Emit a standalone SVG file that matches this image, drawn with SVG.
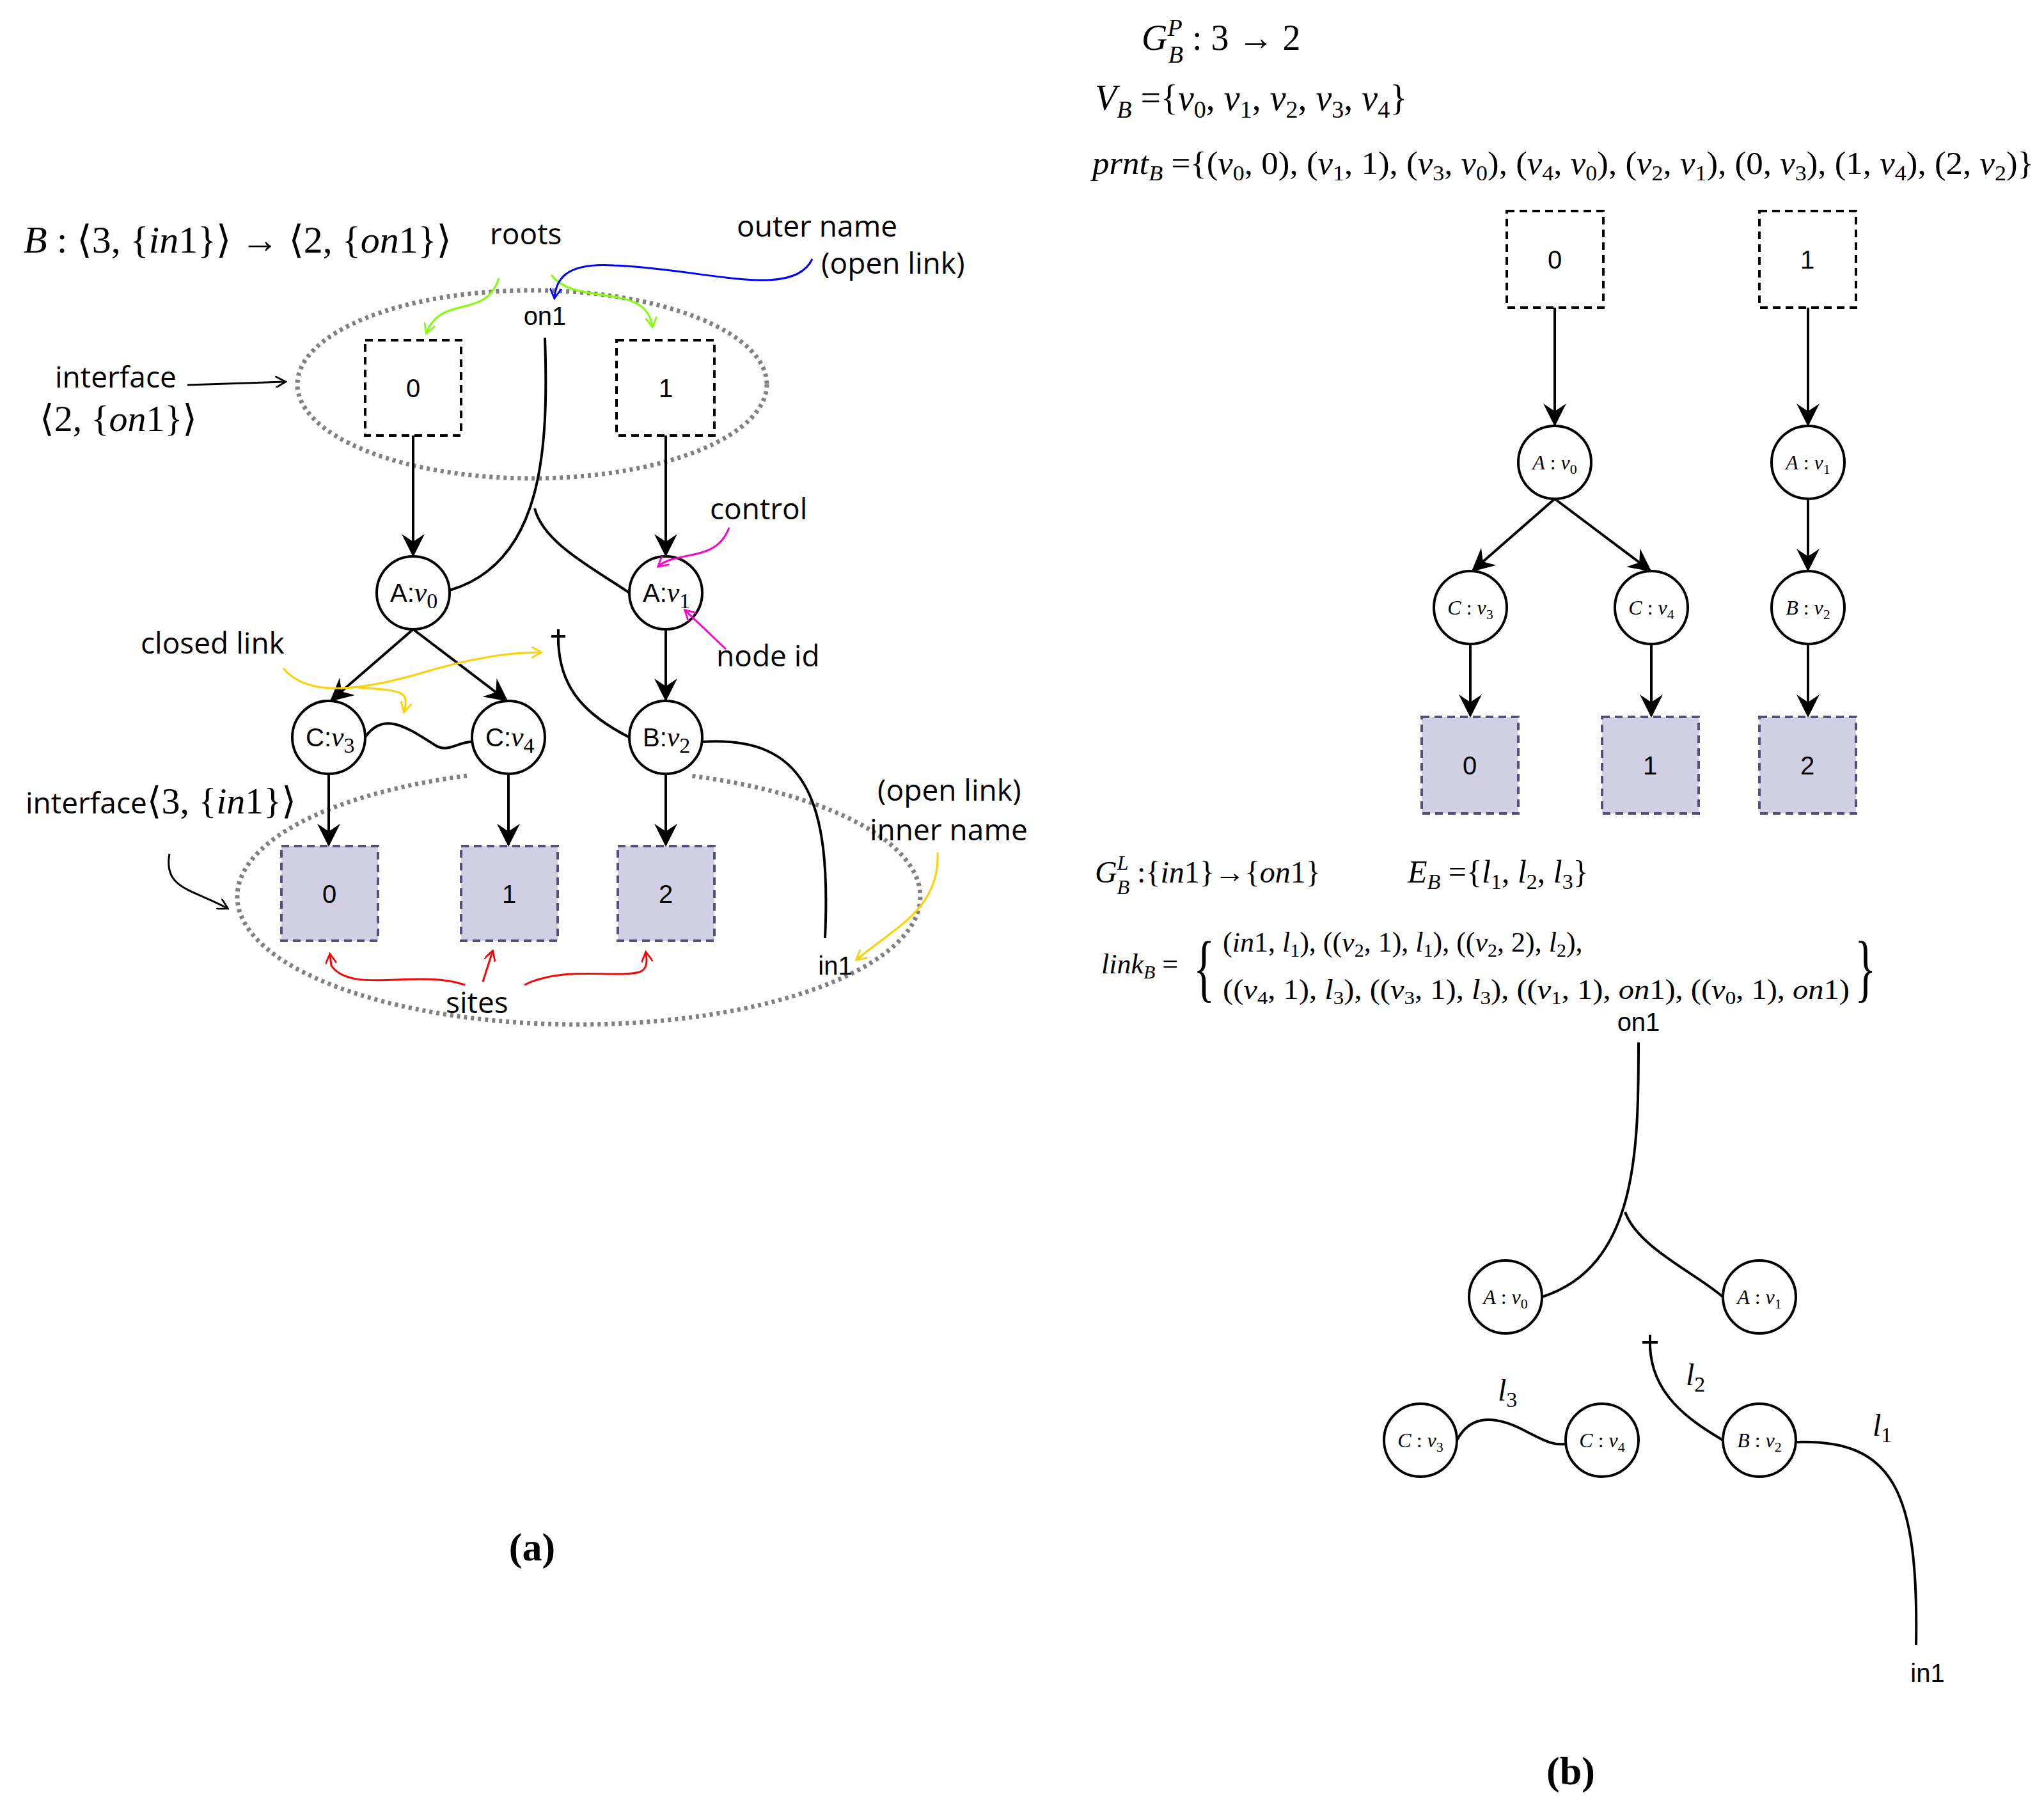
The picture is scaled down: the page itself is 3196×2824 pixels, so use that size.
<svg xmlns="http://www.w3.org/2000/svg" width="3196" height="2824" viewBox="0 0 3196 2824">
<defs>
<marker id="a" viewBox="0 0 12 12" refX="11" refY="6" markerWidth="36" markerHeight="36" orient="auto" markerUnits="userSpaceOnUse"><path d="M0,0 L12,6 L0,12 L4,6 Z" fill="#000"/></marker>
<marker id="sg" viewBox="0 0 10 10" refX="8" refY="5" markerWidth="18" markerHeight="18" orient="auto" markerUnits="userSpaceOnUse"><path d="M0,0 L9,5 L0,10" fill="none" stroke="#7fff00" stroke-width="1.5"/></marker>
<marker id="sb" viewBox="0 0 10 10" refX="8" refY="5" markerWidth="18" markerHeight="18" orient="auto" markerUnits="userSpaceOnUse"><path d="M0,0 L9,5 L0,10" fill="none" stroke="#0000ff" stroke-width="1.5"/></marker>
<marker id="sm" viewBox="0 0 10 10" refX="8" refY="5" markerWidth="18" markerHeight="18" orient="auto" markerUnits="userSpaceOnUse"><path d="M0,0 L9,5 L0,10" fill="none" stroke="#ff00cc" stroke-width="1.5"/></marker>
<marker id="sy" viewBox="0 0 10 10" refX="8" refY="5" markerWidth="18" markerHeight="18" orient="auto" markerUnits="userSpaceOnUse"><path d="M0,0 L9,5 L0,10" fill="none" stroke="#ffd000" stroke-width="1.5"/></marker>
<marker id="sr" viewBox="0 0 10 10" refX="8" refY="5" markerWidth="18" markerHeight="18" orient="auto" markerUnits="userSpaceOnUse"><path d="M0,0 L9,5 L0,10" fill="none" stroke="#ff0000" stroke-width="1.5"/></marker>
<marker id="sk" viewBox="0 0 10 10" refX="8" refY="5" markerWidth="18" markerHeight="18" orient="auto" markerUnits="userSpaceOnUse"><path d="M0,0 L9,5 L0,10" fill="none" stroke="#000" stroke-width="1.5"/></marker>
</defs>
<style>
.root{fill:#fff;stroke:#000;stroke-width:4;stroke-dasharray:12 8}
.site{fill:#d0cfe4;stroke:#55507a;stroke-width:4;stroke-dasharray:12 8}
.nd{fill:#fff;stroke:#000;stroke-width:4}
.e{stroke:#000;stroke-width:4;fill:none}
.l{stroke:#000;stroke-width:4;fill:none}
.iface{fill:none;stroke:#808080;stroke-width:7;stroke-dasharray:5 6}
.s{font-family:"Open Sans","Liberation Sans",sans-serif;font-size:46px;fill:#000}
.a{font-family:"Liberation Sans",Arial,sans-serif;font-size:40px;fill:#000}
.m{font-family:"Liberation Serif","DejaVu Serif",serif;fill:#000}
.mi{font-family:"Liberation Serif","DejaVu Serif",serif;font-style:italic;fill:#000}
.c{text-anchor:middle}
</style>
<rect width="3196" height="2824" fill="#fff"/>

<!-- LEFT PANEL -->
<g id="left-title"><text class="mi" x="37" y="395" font-size="60">B<tspan font-style="normal"> : ⟨3, {</tspan>in<tspan font-style="normal">1}⟩ → ⟨2, {</tspan>on<tspan font-style="normal">1}⟩</tspan></text></g>
<g id="iface-top"><ellipse class="iface" cx="832" cy="601" rx="367" ry="147"/></g>
<g id="iface-bottom"><path class="iface" d="M730,1213 A534,200 0 1 0 1080,1213"/></g>
<g id="root0"><rect class="root" x="571" y="532" width="150" height="149"/><text class="a c" x="646" y="621">0</text></g>
<g id="root1"><rect class="root" x="964" y="532" width="153" height="149"/><text class="a c" x="1041" y="621">1</text></g>
<g id="Av0"><circle class="nd" cx="646" cy="927" r="57"/><text class="a" x="610" y="941">A:<tspan class="mi" font-size="44">v</tspan><tspan class="m" font-size="34" dy="10">0</tspan></text></g>
<g id="Av1"><circle class="nd" cx="1041" cy="927" r="57"/><text class="a" x="1005" y="941">A:<tspan class="mi" font-size="44">v</tspan><tspan class="m" font-size="34" dy="10">1</tspan></text></g>
<g id="Cv3"><circle class="nd" cx="514" cy="1153" r="57"/><text class="a" x="478" y="1167">C:<tspan class="mi" font-size="44">v</tspan><tspan class="m" font-size="34" dy="10">3</tspan></text></g>
<g id="Cv4"><circle class="nd" cx="795" cy="1153" r="57"/><text class="a" x="759" y="1167">C:<tspan class="mi" font-size="44">v</tspan><tspan class="m" font-size="34" dy="10">4</tspan></text></g>
<g id="Bv2"><circle class="nd" cx="1041" cy="1153" r="57"/><text class="a" x="1005" y="1167">B:<tspan class="mi" font-size="44">v</tspan><tspan class="m" font-size="34" dy="10">2</tspan></text></g>
<g id="site0"><rect class="site" x="440" y="1323" width="151" height="148"/><text class="a c" x="515" y="1412">0</text></g>
<g id="site1"><rect class="site" x="721" y="1323" width="151" height="148"/><text class="a c" x="796" y="1412">1</text></g>
<g id="site2"><rect class="site" x="966" y="1323" width="151" height="148"/><text class="a c" x="1041" y="1412">2</text></g>
<g id="left-names">
<text class="a c" x="852" y="508">on1</text>
<text class="a c" x="1306" y="1524">in1</text>
</g>
<g id="left-connectors">
<line class="e" x1="646" y1="681" x2="646" y2="868" marker-end="url(#a)"/>
<line class="e" x1="1041" y1="681" x2="1041" y2="868" marker-end="url(#a)"/>
<line class="e" x1="646" y1="984" x2="518" y2="1095" marker-end="url(#a)"/>
<line class="e" x1="646" y1="984" x2="792" y2="1095" marker-end="url(#a)"/>
<line class="e" x1="1041" y1="984" x2="1041" y2="1094" marker-end="url(#a)"/>
<line class="e" x1="514" y1="1210" x2="514" y2="1321" marker-end="url(#a)"/>
<line class="e" x1="795" y1="1210" x2="795" y2="1321" marker-end="url(#a)"/>
<line class="e" x1="1041" y1="1210" x2="1041" y2="1321" marker-end="url(#a)"/>
<path class="l" d="M852,528 C858,700 850,880 703,923"/>
<path class="l" d="M836,795 C850,850 930,890 984,927"/>
<path class="l" d="M862,995 L884,995 M873,984 L873,1008 M873,1000 C874,1080 920,1120 984,1153"/>
<path class="l" d="M571,1153 C600,1110 640,1140 680,1165 C700,1178 715,1160 738,1160"/>
<path class="l" d="M1098,1160 C1260,1150 1300,1250 1290,1467"/>
</g>
<g id="left-annotations">
<text class="s" x="766" y="382">roots</text>
<text class="s" x="1152" y="370">outer name</text>
<text class="s" x="1284" y="428">(open link)</text>
<text class="s" x="86" y="606">interface</text>
<text class="m" x="62" y="674" font-size="58">⟨2, {<tspan font-style="italic">on</tspan>1}⟩</text>
<text class="s" x="1110" y="812">control</text>
<text class="s" x="1120" y="1042">node id</text>
<text class="s" x="220" y="1022">closed link</text>
<text class="s" x="40" y="1272">interface<tspan class="m" font-size="58">⟨3, {<tspan font-style="italic">in</tspan>1}⟩</tspan></text>
<text class="s" x="1372" y="1252">(open link)</text>
<text class="s" x="1360" y="1314">inner name</text>
<text class="s" x="697" y="1584">sites</text>
<path d="M293,602 L445,597" stroke="#000" stroke-width="3" fill="none" marker-end="url(#sk)"/>
<path d="M265,1335 C255,1390 300,1390 355,1420" stroke="#000" stroke-width="3" fill="none" marker-end="url(#sk)"/>
<path d="M780,435 C760,500 690,460 667,520" stroke="#7fff00" stroke-width="3" fill="none" marker-end="url(#sg)"/>
<path d="M862,430 C900,480 1010,440 1020,510" stroke="#7fff00" stroke-width="3" fill="none" marker-end="url(#sg)"/>
<path d="M1270,405 C1240,470 1100,420 960,415 C880,410 870,440 867,465" stroke="#0000ff" stroke-width="3" fill="none" marker-end="url(#sb)"/>
<path d="M1140,825 C1120,880 1060,860 1030,885" stroke="#ff00cc" stroke-width="3" fill="none" marker-end="url(#sm)"/>
<path d="M1135,1015 L1072,955" stroke="#ff00cc" stroke-width="3" fill="none" marker-end="url(#sm)"/>
<path d="M443,1045 C480,1090 560,1080 650,1055 C730,1030 790,1020 845,1020" stroke="#ffd000" stroke-width="3" fill="none" marker-end="url(#sy)"/>
<path d="M560,1075 C630,1080 640,1080 632,1112" stroke="#ffd000" stroke-width="3" fill="none" marker-end="url(#sy)"/>
<path d="M1466,1333 C1470,1420 1400,1450 1340,1500" stroke="#ffd000" stroke-width="3" fill="none" marker-end="url(#sy)"/>
<path d="M727,1540 C650,1515 550,1555 518,1510 L516,1493" stroke="#ff0000" stroke-width="3" fill="none" marker-end="url(#sr)"/>
<path d="M755,1535 L770,1488" stroke="#ff0000" stroke-width="3" fill="none" marker-end="url(#sr)"/>
<path d="M820,1540 C880,1510 960,1530 1000,1520 C1012,1515 1012,1505 1010,1490" stroke="#ff0000" stroke-width="3" fill="none" marker-end="url(#sr)"/>
</g>
<text class="m c" x="832" y="2440" font-size="62" font-weight="bold">(a)</text>

<!-- RIGHT PANEL -->
<g id="right-eqs">
<text class="mi" x="1785" y="78" font-size="56">G<tspan font-size="38" dy="-22">P</tspan><tspan font-size="38" dx="-22" dy="42">B</tspan><tspan font-style="normal" dy="-20"> : 3 → 2</tspan></text>
<text class="mi" x="1712" y="172" font-size="56">V<tspan font-size="38" dy="12">B</tspan><tspan font-style="normal" dy="-12"> ={</tspan>v<tspan font-size="38" font-style="normal" dy="12">0</tspan><tspan font-style="normal" dy="-12">, </tspan>v<tspan font-size="38" font-style="normal" dy="12">1</tspan><tspan font-style="normal" dy="-12">, </tspan>v<tspan font-size="38" font-style="normal" dy="12">2</tspan><tspan font-style="normal" dy="-12">, </tspan>v<tspan font-size="38" font-style="normal" dy="12">3</tspan><tspan font-style="normal" dy="-12">, </tspan>v<tspan font-size="38" font-style="normal" dy="12">4</tspan><tspan font-style="normal" dy="-12">}</tspan></text>
<text class="m" x="1708" y="272" font-size="50" textLength="1472" lengthAdjust="spacingAndGlyphs"><tspan font-style="italic">prnt</tspan><tspan font-size="34" font-style="italic" dy="10">B</tspan><tspan dy="-10"> ={(</tspan><tspan font-style="italic">v</tspan><tspan font-size="34" dy="10">0</tspan><tspan dy="-10">, 0), (</tspan><tspan font-style="italic">v</tspan><tspan font-size="34" dy="10">1</tspan><tspan dy="-10">, 1), (</tspan><tspan font-style="italic">v</tspan><tspan font-size="34" dy="10">3</tspan><tspan dy="-10">, </tspan><tspan font-style="italic">v</tspan><tspan font-size="34" dy="10">0</tspan><tspan dy="-10">), (</tspan><tspan font-style="italic">v</tspan><tspan font-size="34" dy="10">4</tspan><tspan dy="-10">, </tspan><tspan font-style="italic">v</tspan><tspan font-size="34" dy="10">0</tspan><tspan dy="-10">), (</tspan><tspan font-style="italic">v</tspan><tspan font-size="34" dy="10">2</tspan><tspan dy="-10">, </tspan><tspan font-style="italic">v</tspan><tspan font-size="34" dy="10">1</tspan><tspan dy="-10">), (0, </tspan><tspan font-style="italic">v</tspan><tspan font-size="34" dy="10">3</tspan><tspan dy="-10">), (1, </tspan><tspan font-style="italic">v</tspan><tspan font-size="34" dy="10">4</tspan><tspan dy="-10">), (2, </tspan><tspan font-style="italic">v</tspan><tspan font-size="34" dy="10">2</tspan><tspan dy="-10">)}</tspan></text>
</g>
<g id="p-root0"><rect class="root" x="2356" y="330" width="151" height="151"/><text class="a c" x="2431" y="420">0</text></g>
<g id="p-root1"><rect class="root" x="2751" y="330" width="151" height="151"/><text class="a c" x="2826" y="420">1</text></g>
<g id="p-Av0"><circle class="nd" cx="2431" cy="723" r="57"/><text class="mi c" x="2431" y="734" font-size="32">A<tspan font-style="normal"> : </tspan>v<tspan font-size="22" font-style="normal" dy="7">0</tspan></text></g>
<g id="p-Av1"><circle class="nd" cx="2827" cy="723" r="57"/><text class="mi c" x="2827" y="734" font-size="32">A<tspan font-style="normal"> : </tspan>v<tspan font-size="22" font-style="normal" dy="7">1</tspan></text></g>
<g id="p-Cv3"><circle class="nd" cx="2299" cy="950" r="57"/><text class="mi c" x="2299" y="961" font-size="32">C<tspan font-style="normal"> : </tspan>v<tspan font-size="22" font-style="normal" dy="7">3</tspan></text></g>
<g id="p-Cv4"><circle class="nd" cx="2582" cy="950" r="57"/><text class="mi c" x="2582" y="961" font-size="32">C<tspan font-style="normal"> : </tspan>v<tspan font-size="22" font-style="normal" dy="7">4</tspan></text></g>
<g id="p-Bv2"><circle class="nd" cx="2827" cy="950" r="57"/><text class="mi c" x="2827" y="961" font-size="32">B<tspan font-style="normal"> : </tspan>v<tspan font-size="22" font-style="normal" dy="7">2</tspan></text></g>
<g id="p-site0"><rect class="site" x="2223" y="1121" width="151" height="151"/><text class="a c" x="2298" y="1211">0</text></g>
<g id="p-site1"><rect class="site" x="2505" y="1121" width="151" height="151"/><text class="a c" x="2580" y="1211">1</text></g>
<g id="p-site2"><rect class="site" x="2751" y="1121" width="151" height="151"/><text class="a c" x="2826" y="1211">2</text></g>
<g id="place-connectors">
<line class="e" x1="2431" y1="481" x2="2431" y2="664" marker-end="url(#a)"/>
<line class="e" x1="2827" y1="481" x2="2827" y2="664" marker-end="url(#a)"/>
<line class="e" x1="2431" y1="780" x2="2303" y2="892" marker-end="url(#a)"/>
<line class="e" x1="2431" y1="780" x2="2580" y2="892" marker-end="url(#a)"/>
<line class="e" x1="2827" y1="780" x2="2827" y2="891" marker-end="url(#a)"/>
<line class="e" x1="2299" y1="1007" x2="2299" y2="1119" marker-end="url(#a)"/>
<line class="e" x1="2582" y1="1007" x2="2582" y2="1119" marker-end="url(#a)"/>
<line class="e" x1="2827" y1="1007" x2="2827" y2="1119" marker-end="url(#a)"/>
</g>
<g id="link-eqs">
<text class="mi" x="1712" y="1380" font-size="48">G<tspan font-size="32" dy="-20">L</tspan><tspan font-size="32" dx="-18" dy="38">B</tspan><tspan font-style="normal" dy="-18"> :{</tspan>in<tspan font-style="normal">1}→{</tspan>on<tspan font-style="normal">1}</tspan></text>
<text class="mi" x="2201" y="1380" font-size="50">E<tspan font-size="34" dy="10">B</tspan><tspan font-style="normal" dy="-10"> ={</tspan>l<tspan font-size="34" font-style="normal" dy="10">1</tspan><tspan font-style="normal" dy="-10">, </tspan>l<tspan font-size="34" font-style="normal" dy="10">2</tspan><tspan font-style="normal" dy="-10">, </tspan>l<tspan font-size="34" font-style="normal" dy="10">3</tspan><tspan font-style="normal" dy="-10">}</tspan></text>
<text class="mi" x="1722" y="1522" font-size="44">link<tspan font-size="30" dy="8">B</tspan><tspan font-style="normal" dy="-8"> =</tspan></text>
<text class="m" x="1866" y="1552" font-size="116" transform="translate(1866,1552) scale(0.6,1) translate(-1866,-1552)">{</text>
<text class="m" x="2900" y="1552" font-size="116" transform="translate(2900,1552) scale(0.6,1) translate(-2900,-1552)">}</text>
<text class="m" x="1912" y="1488" font-size="44">(<tspan font-style="italic">in</tspan>1, <tspan font-style="italic">l</tspan><tspan font-size="30" dy="8">1</tspan><tspan dy="-8">), ((</tspan><tspan font-style="italic">v</tspan><tspan font-size="30" dy="8">2</tspan><tspan dy="-8">, 1), </tspan><tspan font-style="italic">l</tspan><tspan font-size="30" dy="8">1</tspan><tspan dy="-8">), ((</tspan><tspan font-style="italic">v</tspan><tspan font-size="30" dy="8">2</tspan><tspan dy="-8">, 2), </tspan><tspan font-style="italic">l</tspan><tspan font-size="30" dy="8">2</tspan><tspan dy="-8">),</tspan></text>
<text class="m" x="1912" y="1562" font-size="44" textLength="980" lengthAdjust="spacingAndGlyphs">((<tspan font-style="italic">v</tspan><tspan font-size="30" dy="8">4</tspan><tspan dy="-8">, 1), </tspan><tspan font-style="italic">l</tspan><tspan font-size="30" dy="8">3</tspan><tspan dy="-8">), ((</tspan><tspan font-style="italic">v</tspan><tspan font-size="30" dy="8">3</tspan><tspan dy="-8">, 1), </tspan><tspan font-style="italic">l</tspan><tspan font-size="30" dy="8">3</tspan><tspan dy="-8">), ((</tspan><tspan font-style="italic">v</tspan><tspan font-size="30" dy="8">1</tspan><tspan dy="-8">, 1), </tspan><tspan font-style="italic">on</tspan><tspan>1), ((</tspan><tspan font-style="italic">v</tspan><tspan font-size="30" dy="8">0</tspan><tspan dy="-8">, 1), </tspan><tspan font-style="italic">on</tspan><tspan>1)</tspan></text>
</g>
<g id="l-Av0"><circle class="nd" cx="2354" cy="2028" r="57"/><text class="mi c" x="2354" y="2039" font-size="32">A<tspan font-style="normal"> : </tspan>v<tspan font-size="22" font-style="normal" dy="7">0</tspan></text></g>
<g id="l-Av1"><circle class="nd" cx="2751" cy="2028" r="57"/><text class="mi c" x="2751" y="2039" font-size="32">A<tspan font-style="normal"> : </tspan>v<tspan font-size="22" font-style="normal" dy="7">1</tspan></text></g>
<g id="l-Cv3"><circle class="nd" cx="2221" cy="2252" r="57"/><text class="mi c" x="2221" y="2263" font-size="32">C<tspan font-style="normal"> : </tspan>v<tspan font-size="22" font-style="normal" dy="7">3</tspan></text></g>
<g id="l-Cv4"><circle class="nd" cx="2505" cy="2252" r="57"/><text class="mi c" x="2505" y="2263" font-size="32">C<tspan font-style="normal"> : </tspan>v<tspan font-size="22" font-style="normal" dy="7">4</tspan></text></g>
<g id="l-Bv2"><circle class="nd" cx="2751" cy="2252" r="57"/><text class="mi c" x="2751" y="2263" font-size="32">B<tspan font-style="normal"> : </tspan>v<tspan font-size="22" font-style="normal" dy="7">2</tspan></text></g>
<g id="link-connectors">
<path class="l" d="M2562,1630 C2562,1800 2560,1980 2411,2028"/>
<path class="l" d="M2541,1895 C2560,1950 2650,1990 2694,2028"/>
<path class="l" d="M2568,2099 L2592,2099 M2580,2087 L2580,2112 M2580,2104 C2582,2180 2640,2220 2694,2252"/>
<path class="l" d="M2278,2252 C2300,2210 2340,2215 2380,2235 C2420,2256 2430,2260 2448,2258"/>
<path class="l" d="M2808,2255 C2960,2250 3000,2330 2996,2572"/>
</g>
<g id="link-labels">
<text class="a c" x="2562" y="1612">on1</text>
<text class="a c" x="3014" y="2630">in1</text>
<text class="mi" x="2342" y="2190" font-size="48">l<tspan font-style="normal" font-size="34" dy="10">3</tspan></text>
<text class="mi" x="2636" y="2166" font-size="48">l<tspan font-style="normal" font-size="34" dy="10">2</tspan></text>
<text class="mi" x="2928" y="2245" font-size="48">l<tspan font-style="normal" font-size="34" dy="10">1</tspan></text>
</g>
<text class="m c" x="2456" y="2790" font-size="62" font-weight="bold">(b)</text>
</svg>
